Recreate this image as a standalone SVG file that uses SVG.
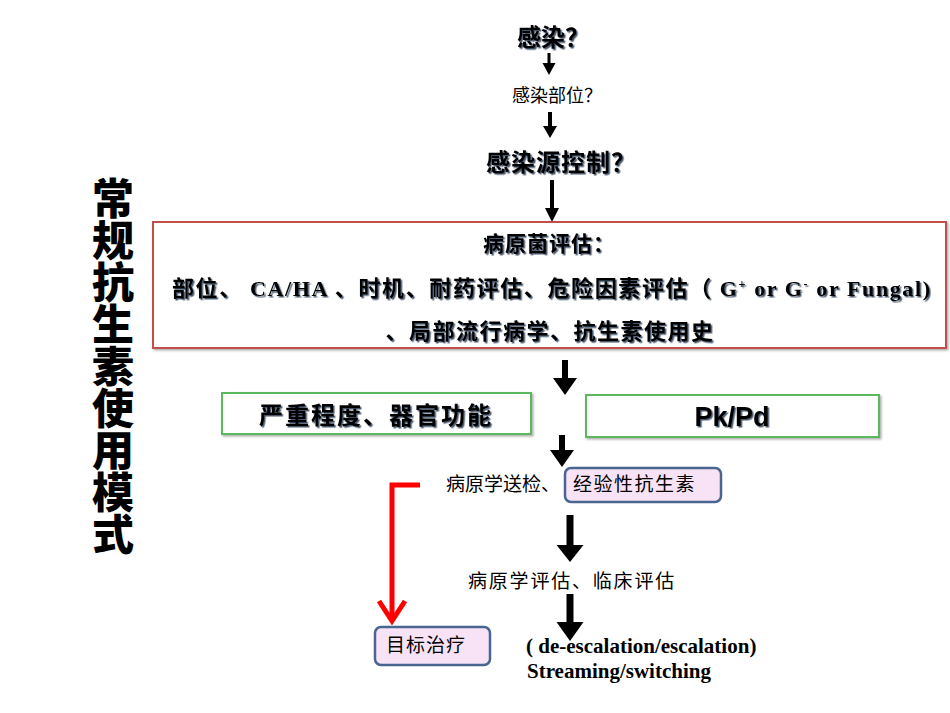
<svg xmlns="http://www.w3.org/2000/svg" width="950" height="713" viewBox="0 0 950 713">
<style>
.cjk{font-family:"Noto Sans CJK SC","Noto Sans",sans-serif;fill:#000}
.b{font-weight:bold}
.sh{filter:url(#tsh)}
.lat{font-family:"Liberation Serif","Times New Roman",serif;font-weight:bold}
.box-red{fill:#fff;stroke:#c0504d;stroke-width:2;filter:url(#bsh)}
.box-green{fill:#fff;stroke:#5cb85c;stroke-width:2;filter:url(#bsh)}
.box-pink{fill:#f7e3f5;stroke:#4a6690;stroke-width:2.5}
.ar{fill:#000}
</style>
<defs>
<filter id="tsh" x="-10%" y="-30%" width="130%" height="160%">
<feDropShadow dx="1.5" dy="1.5" stdDeviation="0.7" flood-color="#1f2a44" flood-opacity="0.8"/>
</filter>
<filter id="bsh" x="-5%" y="-10%" width="110%" height="125%">
<feDropShadow dx="1.5" dy="1.5" stdDeviation="0.8" flood-color="#888" flood-opacity="0.7"/>
</filter>
</defs>
<rect width="950" height="713" fill="#fff"/>

<g id="title">
<text class="cjk" x="113" y="177" font-size="42" font-weight="900" writing-mode="vertical-rl" style="writing-mode:vertical-rl;text-orientation:upright">常规抗生素使用模式</text>
</g>

<g id="connectors">
<path class="ar" d="M547.5 53h3v10h5l-6.5 12l-6.5-12h5z"/>
<path class="ar" d="M548 112h4v14h5l-7 12l-7-12h5z"/>
<path class="ar" d="M550 180h4v28h5l-7 14l-7-14h5z"/>
<path class="ar" d="M562 360h6v18h9l-12 17l-12-17h9z"/>
<path class="ar" d="M559 435h6v15h9l-12 17l-12-17h9z"/>
<path class="ar" d="M566.5 515h7v30h10l-13.5 17l-13.5-17h10z"/>
<path class="ar" d="M566.5 594h7v28h10l-13.5 19l-13.5-19h10z"/>
<path d="M420 485H392V620" fill="none" stroke="#f00" stroke-width="5"/>
<path d="M379 601L392 621L405 601" fill="none" stroke="#f00" stroke-width="5"/>
</g>

<g id="n-infection">
<text class="cjk b sh" x="553" y="46" font-size="24" text-anchor="middle">感染？</text>
</g>
<g id="n-site">
<text class="cjk" x="557" y="102" font-size="18" text-anchor="middle">感染部位？</text>
</g>
<g id="n-source">
<text class="cjk b sh" x="561" y="171" font-size="24" letter-spacing="1" text-anchor="middle">感染源控制？</text>
</g>

<g id="n-pathogen">
<rect class="box-red" x="153" y="222" width="793" height="126"/>
<text class="cjk b sh" x="549" y="251" font-size="21" letter-spacing="1" text-anchor="middle">病原菌评估：</text>
<text class="cjk b sh" x="172" y="296" font-size="22" textLength="758" lengthAdjust="spacing">部位、<tspan class="lat"> CA/HA </tspan>、时机、耐药评估、危险因素评估（<tspan class="lat"> G<tspan font-size="12" dy="-8">+</tspan><tspan dy="8"> or G</tspan><tspan font-size="12" dy="-8">-</tspan><tspan dy="8"> or Fungal)</tspan></tspan></text>
<text class="cjk b sh" x="550" y="339" font-size="22" letter-spacing="1.5" text-anchor="middle">、局部流行病学、抗生素使用史</text>
</g>

<g id="n-severity">
<rect class="box-green" x="222" y="393" width="309" height="41"/>
<text class="cjk b sh" x="376" y="424" font-size="24" letter-spacing="2" text-anchor="middle">严重程度、器官功能</text>
</g>
<g id="n-pkpd">
<rect class="box-green" x="586" y="395" width="293" height="42"/>
<text x="732" y="426" font-family="'Liberation Sans',Arial,sans-serif" font-weight="bold" font-size="27" text-anchor="middle" class="sh">Pk/Pd</text>
</g>

<g id="n-empiric">
<text class="cjk" x="446" y="491" font-size="19">病原学送检、</text>
<rect class="box-pink" x="565" y="468" width="156" height="34" rx="6"/>
<text class="cjk" x="573" y="491" font-size="19" letter-spacing="1.5" fill="#2a1a30">经验性抗生素</text>
</g>

<g id="n-eval">
<text class="cjk" x="468" y="588" font-size="19" letter-spacing="1.8">病原学评估、临床评估</text>
</g>

<g id="n-target">
<rect class="box-pink" x="375" y="627" width="115" height="38" rx="6"/>
<text class="cjk" x="386" y="652" font-size="19" letter-spacing="1" fill="#2a1f3d">目标治疗</text>
</g>

<g id="n-deescalation">
<text class="lat" x="526" y="653" font-size="21">( de-escalation/escalation)</text>
<text class="lat" x="527" y="678" font-size="21">Streaming/switching</text>
</g>
</svg>
